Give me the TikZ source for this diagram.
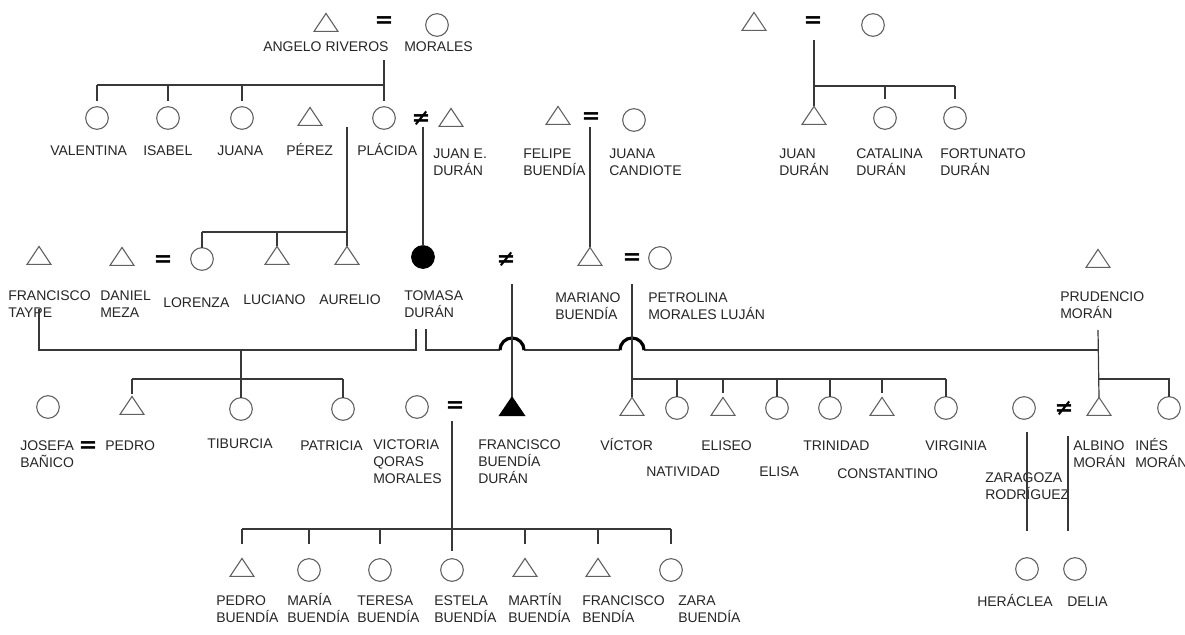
\documentclass[tikz,border=0pt]{standalone}
\usepackage{fontspec}
\setmainfont{Liberation Sans}
\newfontfamily\markfont{DejaVu Sans}
\usetikzlibrary{shapes.geometric}

\tikzset{
  link/.style={draw=black!78, line width=0.9pt},
  hop/.style={draw=black, line width=2.4pt},
  sym/.style={draw=black!62, line width=0.8pt, inner sep=0pt, outer sep=0pt},
  male/.style={sym, isosceles triangle, isosceles triangle stretches,
    shape border rotate=90, minimum width=18pt, minimum height=13.5pt},
  female/.style={sym, circle, minimum size=17pt},
  dead/.style={fill=black, draw=black},
  tie/.style={inner sep=0pt, font=\markfont\bfseries\fontsize{17pt}{17pt}\selectfont},
  lbl/.style={inner sep=0pt, anchor=base west, align=left, text=black!85,
    font=\fontsize{10.5pt}{13pt}\selectfont},
  % multi-line labels are placed by the baseline of their first line
  twoline/.style={lbl, yshift=-13pt},
  threeline/.style={lbl, yshift=-26pt},
}

\begin{document}
\begin{tikzpicture}[x=0.75pt,y=-0.75pt]
\fill[white] (0,0) rectangle (1185,635);
\useasboundingbox (0,0) rectangle (1185,635);

% ---------- first generation ----------
\node[male]   (angelo)  at (326,25) {};
\node[tie]    (eqa)     at (384,22) {=};
\node[female] (morales) at (437,25) {};
\node[lbl] (l-angelo)  at (263,52) {ANGELO RIVEROS};
\node[lbl] (l-morales) at (404,52) {MORALES};

\node[male]   (durf) at (754,24) {};
\node[tie]    (eqj)  at (813,22) {=};
\node[female] (durm) at (873,25) {};

% ---------- second generation ----------
\node[female] (valentina) at (97,118) {};
\node[female] (isabel)    at (168,118) {};
\node[female] (juana)     at (242,118) {};
\node[male]   (perez)     at (310,119) {};
\node[female] (placida)   at (384,118) {};
\node[tie]    (neqp)      at (421,118) {≠};
\node[male]   (juane)     at (451,120) {};
\node[male]   (felipe)    at (558,118) {};
\node[tie]    (eqf)       at (591,118) {=};
\node[female] (candiote)  at (634,120) {};
\node[male]   (juand)     at (814,118) {};
\node[female] (catalina)  at (885,118) {};
\node[female] (fortunato) at (955,118) {};

\node[lbl]     (l-valentina) at (50,155)  {VALENTINA};
\node[lbl]     (l-isabel)    at (143,155) {ISABEL};
\node[lbl]     (l-juana)     at (217,155) {JUANA};
\node[lbl]     (l-perez)     at (286,155) {PÉREZ};
\node[lbl]     (l-placida)   at (357,155) {PLÁCIDA};
\node[twoline] (l-juane)     at (433,158) {JUAN E.\\DURÁN};
\node[twoline] (l-felipe)    at (523,158) {FELIPE\\BUENDÍA};
\node[twoline] (l-candiote)  at (609,158) {JUANA\\CANDIOTE};
\node[twoline] (l-juand)     at (779,158) {JUAN\\DURÁN};
\node[twoline] (l-catalina)  at (856,158) {CATALINA\\DURÁN};
\node[twoline] (l-fortunato) at (940,158) {FORTUNATO\\DURÁN};

% ---------- third generation ----------
\node[male]       (ftaype)    at (39,258) {};
\node[male]       (daniel)    at (122,259) {};
\node[tie]        (eqd)       at (163,261) {=};
\node[female]     (lorenza)   at (202,259) {};
\node[male]       (luciano)   at (277,258) {};
\node[male]       (aurelio)   at (347,258) {};
\node[female,dead](tomasa)    at (423,257) {};
\node[tie]        (neqt)      at (506,259) {≠};
\node[male]       (mariano)   at (590,259) {};
\node[tie]        (eqm)       at (632,259) {=};
\node[female]     (petrolina) at (660,258) {};
\node[male]       (prudencio) at (1098,261) {};

\node[twoline] (l-ftaype)    at (8,300)    {FRANCISCO\\TAYPE};
\node[twoline] (l-daniel)    at (100,300)  {DANIEL\\MEZA};
\node[lbl]     (l-lorenza)   at (163,307)  {LORENZA};
\node[lbl]     (l-luciano)   at (243,304)  {LUCIANO};
\node[lbl]     (l-aurelio)   at (319,304)  {AURELIO};
\node[twoline] (l-tomasa)    at (404,300)  {TOMASA\\DURÁN};
\node[twoline] (l-mariano)   at (555,302)  {MARIANO\\BUENDÍA};
\node[twoline] (l-petrolina) at (648,302)  {PETROLINA\\MORALES LUJÁN};
\node[twoline] (l-prudencio) at (1060,301) {PRUDENCIO\\MORÁN};

% ---------- fourth generation ----------
\node[female] (josefa)      at (48,407) {};
\node[male]   (pedro)       at (132,408) {};
\node[female] (tiburcia)    at (241,409) {};
\node[female] (patricia)    at (343,409) {};
\node[female] (victoria)    at (417,407) {};
\node[tie]    (eqv)         at (455,407) {=};
\node[male,dead,minimum width=19pt,minimum height=14pt] (fbd) at (512,409) {};
\node[male]   (victor)      at (632,409) {};
\node[female] (natividad)   at (677,408) {};
\node[male]   (eliseo)      at (723,409) {};
\node[female] (elisa)       at (777,408) {};
\node[female] (trinidad)    at (830,408) {};
\node[male]   (constantino) at (882,409) {};
\node[female] (virginia)    at (946,408) {};
\node[female] (zaragoza)    at (1024,408) {};
\node[tie]    (neqz)        at (1064,408) {≠};
\node[male]   (albino)      at (1099,409) {};
\node[female] (ines)        at (1169,408) {};

\node[twoline]   (l-josefa)      at (20,450)  {JOSEFA\\BAÑICO};
\node[tie]       (eqpj)          at (88,447)  {=};
\node[lbl]       (l-pedro)       at (105,450) {PEDRO};
\node[lbl]       (l-tiburcia)    at (207,448) {TIBURCIA};
\node[lbl]       (l-patricia)    at (300,450) {PATRICIA};
\node[threeline] (l-victoria)    at (373,449) {VICTORIA\\QORAS\\MORALES};
\node[threeline] (l-fbd)         at (478,449) {FRANCISCO\\BUENDÍA\\DURÁN};
\node[lbl]       (l-victor)      at (600,450) {VÍCTOR};
\node[lbl]       (l-natividad)   at (646,476) {NATIVIDAD};
\node[lbl]       (l-eliseo)      at (701,450) {ELISEO};
\node[lbl]       (l-elisa)       at (759,476) {ELISA};
\node[lbl]       (l-trinidad)    at (803,450) {TRINIDAD};
\node[lbl]       (l-constantino) at (837,478) {CONSTANTINO};
\node[lbl]       (l-virginia)    at (925,450) {VIRGINIA};
\node[twoline]   (l-zaragoza)    at (985,482) {ZARAGOZA\\RODRÍGUEZ};
\node[twoline]   (l-albino)      at (1073,450) {ALBINO\\MORÁN};
\node[twoline]   (l-ines)        at (1135,450) {INÉS\\MORÁN};

% ---------- fifth generation ----------
\node[male]   (pbuendia) at (242,570) {};
\node[female] (maria)    at (309,570) {};
\node[female] (teresa)   at (380,570) {};
\node[female] (estela)   at (452,570) {};
\node[male]   (martin)   at (525,570) {};
\node[male]   (fbendia)  at (598,570) {};
\node[female] (zara)     at (671,570) {};
\node[female] (heraclea) at (1027,569) {};
\node[female] (delia)    at (1075,569) {};

\node[twoline] (l-pbuendia) at (216,605)  {PEDRO\\BUENDÍA};
\node[twoline] (l-maria)    at (287,605)  {MARÍA\\BUENDÍA};
\node[twoline] (l-teresa)   at (357,605)  {TERESA\\BUENDÍA};
\node[twoline] (l-estela)   at (434,605)  {ESTELA\\BUENDÍA};
\node[twoline] (l-martin)   at (508,605)  {MARTÍN\\BUENDÍA};
\node[twoline] (l-fbendia)  at (582,605)  {FRANCISCO\\BENDÍA};
\node[twoline] (l-zara)     at (678,605)  {ZARA\\BUENDÍA};
\node[lbl]     (l-heraclea) at (977,606)  {HERÁCLEA};
\node[lbl]     (l-delia)    at (1067,606) {DELIA};

% ---------- descent lines ----------
% Angelo Riveros = Morales
\draw[link, shorten >=4.5pt] (eqa |- 0,60) -- (placida.north);
\draw[link] (valentina.north |- 0,85) -- (placida.north |- 0,85);
\foreach \n in {valentina,isabel,juana}
  \draw[link, shorten >=4.5pt] (\n.north |- 0,85) -- (\n.north);

% Pérez and Plácida
\draw[link] (aurelio.north |- 0,127) -- (aurelio.north);
\draw[link] (lorenza.north |- 0,232) -- (aurelio.north |- 0,232);
\foreach \n in {lorenza,luciano}
  \draw[link] (\n.north |- 0,232) -- (\n.north);

% Plácida and Juan E. Durán
\draw[link] (tomasa.north |- 0,127) -- (tomasa.north);

% Felipe Buendía = Juana Candiote
\draw[link] (mariano.north |- 0,127) -- (mariano.north);

% Durán family
\draw[link] (juand.north |- 0,40) -- (juand.north);
\draw[link] (juand.north |- 0,86) -- (fortunato.north |- 0,86);
\foreach \n in {catalina,fortunato}
  \draw[link, shorten >=6pt] (\n.north |- 0,86) -- (\n.north);

% Francisco Taype and Tomasa Durán
\coordinate (tw-l) at (416,329);
\coordinate (tw-r) at (426,329);
\draw[link] (ftaype.south |- 0,309) -- (ftaype.south |- 0,350) -- (tw-l |- 0,350) -- (tw-l);
\draw[link] (tiburcia.north |- 0,350) -- (tiburcia.north);
\draw[link] (pedro.north |- 0,379) -- (patricia.north |- 0,379);
\draw[link, shorten >=2pt] (pedro.north |- 0,379) -- (pedro.north);
\draw[link] (patricia.north |- 0,379) -- (patricia.north);

% Tomasa Durán and Prudencio Morán, hopping over two lines
\coordinate (hop1) at (fbd.north |- 0,350);
\coordinate (hop2) at (victor.north |- 0,350);
\draw[link] (tw-r) -- (tw-r |- 0,350) -- ([xshift=-9pt]hop1);
\draw[link] ([xshift=9pt]hop1) -- ([xshift=-9pt]hop2);
\draw[link] ([xshift=9pt]hop2) -- (prudencio.south |- 0,350);
\draw[hop] ([xshift=-9pt]hop1) arc[start angle=180, end angle=0, radius=9pt];
\draw[hop] ([xshift=-9pt]hop2) arc[start angle=180, end angle=0, radius=9pt];

\draw[link] (prudencio.south |- 0,330) -- (albino.north);
\draw[link] (albino.north |- 0,379) -- (ines.north |- 0,379) -- (ines.north);

% Tomasa Durán and Mariano Buendía
\draw[link] (fbd.north |- 0,284) -- (fbd.north);

% Mariano Buendía = Petrolina Morales Luján
\draw[link] (victor.north |- 0,284) -- (victor.north);
\draw[link] (victor.north |- 0,379) -- (virginia.north |- 0,379);
\foreach \n in {natividad,elisa,trinidad,virginia}
  \draw[link] (\n.north |- 0,379) -- (\n.north);
\foreach \n in {eliseo,constantino}
  \draw[link, shorten >=3pt] (\n.north |- 0,379) -- (\n.north);

% Victoria Qoras Morales = Francisco Buendía Durán
\draw[link, shorten >=6pt] (estela.north |- 0,421) -- (estela.north);
\draw[link] (pbuendia.north |- 0,529) -- (zara.north |- 0,529);
\foreach \n in {pbuendia,maria,teresa,martin,fbendia,zara}
  \draw[link] (\n.north |- 0,529) -- (\n.north |- 0,544);

% Zaragoza Rodríguez and Albino Morán
\coordinate (dl-top) at (1068,436);
\draw[link] (heraclea.north |- 0,432) -- (heraclea.north |- 0,531);
\draw[link] (dl-top) -- (dl-top |- 0,531);
\end{tikzpicture}
\end{document}
